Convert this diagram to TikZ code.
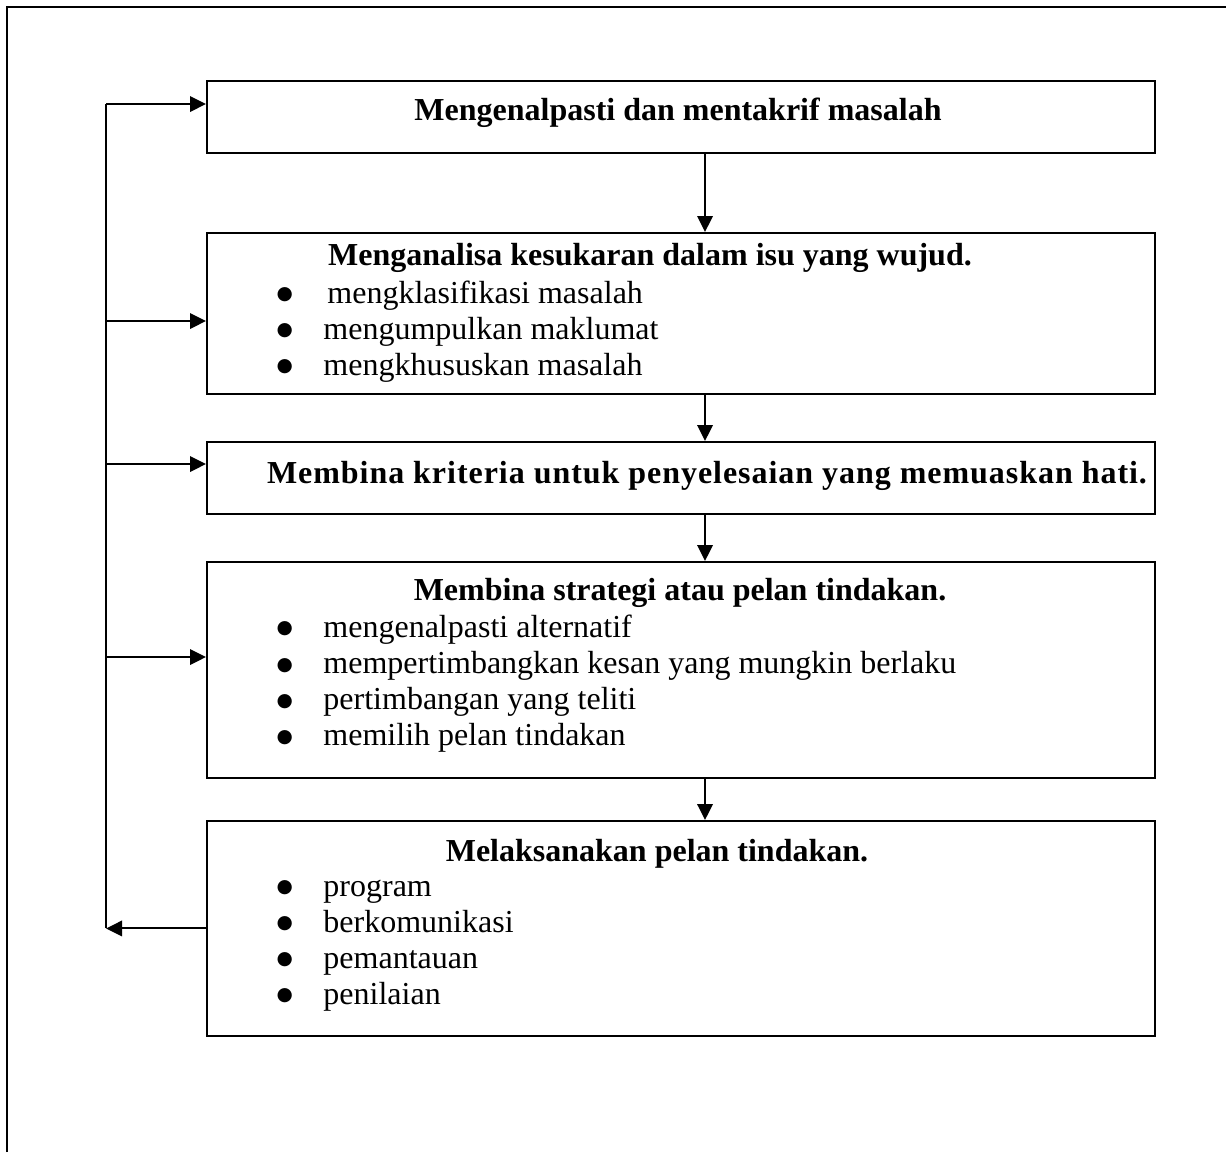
\documentclass[tikz,border=0pt]{standalone}
\usepackage{fontspec}
\setmainfont{Liberation Serif}
\newfontfamily\symfont{DejaVu Sans}
\newfontfamily\widebf[LetterSpace=3]{Liberation Serif Bold}
\usetikzlibrary{arrows.meta}
\tikzset{
    box/.style={draw, line width=0.75pt, inner sep=0pt, anchor=north west, minimum width=355.5pt},
    ttl/.style={font=\fontsize{12}{13.8}\selectfont\bfseries, inner sep=0pt, anchor=base},
    itm/.style={font=\fontsize{12}{13.8}\selectfont, inner sep=0pt, anchor=base west},
    arr/.style={line width=0.75pt, -{Triangle[length=6pt,width=5.8pt]}},
    link/.style={line width=0.75pt},
}
\newcommand{\bul}{\makebox[17.6pt][l]{\raisebox{1.2pt}{\symfont\fontsize{7}{8}\selectfont ●}}}

\begin{document}
\begin{tikzpicture}[x=0.375pt, y=-0.375pt]
    \useasboundingbox (0,0) rectangle (1226,1152);
    % page frame
    \draw[line width=1.1pt] (7,1152) -- (7,7) -- (1226,7);
    % boxes
    \node[box, minimum height=27pt](b1) at (206,80) {};
    \node[box, minimum height=60.4pt](b2) at (206,232) {};
    \node[box, minimum height=27pt](b3) at (206,441) {};
    \node[box, minimum height=81pt](b4) at (206,561) {};
    \node[box, minimum height=80.6pt](b5) at (206,820) {};
    % titles
    \node[ttl](t1) at (678,120) {Mengenalpasti dan mentakrif masalah};
    \node[ttl](t2) at (650,265) {Menganalisa kesukaran dalam isu yang wujud.};
    \node[ttl, font=\fontsize{12}{13.8}\selectfont\widebf](t3) at (707,483) {Membina kriteria untuk penyelesaian yang memuaskan hati.};
    \node[ttl](t4) at (680,600) {Membina strategi atau pelan tindakan.};
    \node[ttl](t5) at (657,861) {Melaksanakan pelan tindakan.};
    % bullet lists
    \foreach \txt [count=\i] in {\hspace{1.5pt}mengklasifikasi masalah, mengumpulkan maklumat, mengkhususkan masalah}
        \node[itm](i2-\i) at (276,{303+36*(\i-1)}) {\bul\txt};
    \foreach \txt [count=\i] in {mengenalpasti alternatif, mempertimbangkan kesan yang mungkin berlaku, pertimbangan yang teliti, memilih pelan tindakan}
        \node[itm](i4-\i) at (276,{637+36.3*(\i-1)}) {\bul\txt};
    \foreach \txt [count=\i] in {program, berkomunikasi, pemantauan, penilaian}
        \node[itm](i5-\i) at (276,{896+36*(\i-1)}) {\bul\txt};
    % flow down
    \coordinate (mid) at (705,0);
    \draw[arr] (b1.south -| mid) -- (b2.north -| mid);
    \draw[arr] (b2.south -| mid) -- (b3.north -| mid);
    \draw[arr] (b3.south -| mid) -- (b4.north -| mid);
    \draw[arr] (b4.south -| mid) -- (b5.north -| mid);
    % feedback loop
    \coordinate (lft) at (106,0);
    \coordinate (r1) at (106,104);
    \coordinate (r2) at (106,321);
    \coordinate (r3) at (106,464);
    \coordinate (r4) at (106,657);
    \draw[arr] (b5.west) -- (b5.west -| lft);
    \draw[link] (b5.west -| lft) -- (r1);
    \foreach \r/\b in {r1/b1, r2/b2, r3/b3, r4/b4}
        \draw[arr] (\r) -- (\r -| \b.west);
\end{tikzpicture}
\end{document}
